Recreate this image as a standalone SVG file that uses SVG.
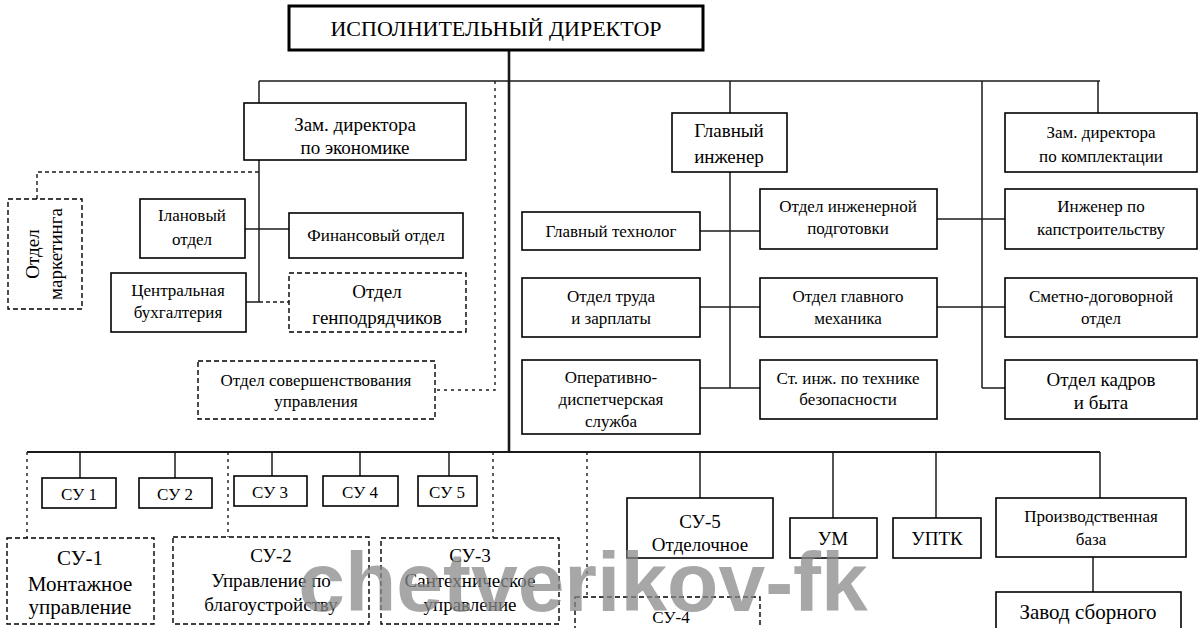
<svg xmlns="http://www.w3.org/2000/svg" width="1200" height="628" viewBox="0 0 1200 628">
<style>
.bx{fill:none;stroke:#000;stroke-width:1.6}
.dbx{fill:none;stroke:#000;stroke-width:1.4;stroke-dasharray:5,3}
.ln{fill:none;stroke:#1a1a1a;stroke-width:1.5}
.dl{fill:none;stroke:#1a1a1a;stroke-width:1.4;stroke-dasharray:4,3}
.dt{fill:none;stroke:#1a1a1a;stroke-width:1.4;stroke-dasharray:3,4}
</style>
<rect width="1200" height="628" fill="#fff"/>

<g id="connectors">
  <line class="ln" x1="509" y1="50" x2="509" y2="452" style="stroke-width:2.6"/>
  <line class="ln" x1="259" y1="81" x2="1100" y2="81"/>
  <line class="ln" x1="259" y1="81" x2="259" y2="103"/>
  <line class="ln" x1="259" y1="160" x2="259" y2="302"/>
  <line class="ln" x1="245" y1="229" x2="289" y2="229"/>
  <line class="ln" x1="246" y1="302" x2="259" y2="302"/>
  <line class="dl" x1="259" y1="302" x2="289" y2="302"/>
  <polyline class="dl" points="259,172 37,172 37,199"/>
  <polyline class="dt" points="495,81 495,390 435,390"/>
  <line class="ln" x1="730" y1="81" x2="730" y2="113"/>
  <line class="ln" x1="730" y1="172" x2="730" y2="388"/>
  <line class="ln" x1="1098" y1="81" x2="1098" y2="113"/>
  <line class="ln" x1="982" y1="81" x2="982" y2="388"/>
  <line class="ln" x1="700" y1="231" x2="760" y2="231"/>
  <line class="ln" x1="700" y1="307" x2="760" y2="307"/>
  <line class="ln" x1="700" y1="388" x2="760" y2="388"/>
  <line class="ln" x1="937" y1="219" x2="1005" y2="219"/>
  <line class="ln" x1="937" y1="307" x2="1005" y2="307"/>
  <line class="ln" x1="982" y1="388" x2="1005" y2="388"/>
  <line class="ln" x1="27" y1="452" x2="1100" y2="452" style="stroke-width:2"/>
  <line class="ln" x1="80" y1="452" x2="80" y2="478"/>
  <line class="ln" x1="175" y1="452" x2="175" y2="478"/>
  <line class="ln" x1="272" y1="452" x2="272" y2="476"/>
  <line class="ln" x1="360" y1="452" x2="360" y2="476"/>
  <line class="ln" x1="449" y1="452" x2="449" y2="476"/>
  <line class="dt" x1="27" y1="452" x2="27" y2="538"/>
  <line class="dt" x1="228" y1="452" x2="228" y2="537"/>
  <line class="dt" x1="493" y1="452" x2="493" y2="538"/>
  <line class="dt" x1="587" y1="452" x2="587" y2="597"/>
  <line class="ln" x1="700" y1="452" x2="700" y2="498"/>
  <line class="ln" x1="833" y1="452" x2="833" y2="518"/>
  <line class="ln" x1="936" y1="452" x2="936" y2="518"/>
  <line class="ln" x1="1100" y1="452" x2="1100" y2="498"/>
  <line class="ln" x1="1093" y1="557" x2="1093" y2="592"/>
</g>

<g id="director"><rect x="289" y="6" width="414" height="44" fill="none" stroke="#000" stroke-width="3"/><text font-family="Liberation Serif" text-anchor="middle" x="496" y="36" font-size="22">ИСПОЛНИТЕЛЬНЫЙ ДИРЕКТОР</text></g>
<g id="zam-econ"><rect class="bx" x="244" y="103" width="222" height="57"/><text font-family="Liberation Serif" text-anchor="middle" font-size="19" x="355" y="131">Зам. директора</text><text font-family="Liberation Serif" text-anchor="middle" font-size="19" x="355" y="154">по экономике</text></g>
<g id="marketing"><rect class="dbx" x="8" y="199" width="74" height="110"/><text font-family="Liberation Serif" text-anchor="middle" font-size="19" transform="translate(39,254) rotate(-90)">Отдел</text><text font-family="Liberation Serif" text-anchor="middle" font-size="19" transform="translate(62,254) rotate(-90)">маркетинга</text></g>
<g id="planovy"><rect class="bx" x="140" y="199" width="105" height="59"/><text font-family="Liberation Serif" text-anchor="middle" font-size="17" x="192" y="221">Ілановый</text><text font-family="Liberation Serif" text-anchor="middle" font-size="17" x="192" y="245">отдел</text></g>
<g id="finansovy"><rect class="bx" x="289" y="213" width="174" height="45"/><text font-family="Liberation Serif" text-anchor="middle" font-size="17" x="376" y="241">Финансовый отдел</text></g>
<g id="buh"><rect class="bx" x="111" y="273" width="135" height="59"/><text font-family="Liberation Serif" text-anchor="middle" font-size="17" x="178" y="296">Центральная</text><text font-family="Liberation Serif" text-anchor="middle" font-size="17" x="178" y="318">бухгалтерия</text></g>
<g id="genpodr"><rect class="dbx" x="289" y="273" width="177" height="59"/><text font-family="Liberation Serif" text-anchor="middle" font-size="19" x="377" y="298">Отдел</text><text font-family="Liberation Serif" text-anchor="middle" font-size="19" x="377" y="324">генподрядчиков</text></g>
<g id="soversh"><rect class="dbx" x="198" y="361" width="237" height="58"/><text font-family="Liberation Serif" text-anchor="middle" font-size="17" x="316" y="386">Отдел совершенствования</text><text font-family="Liberation Serif" text-anchor="middle" font-size="17" x="316" y="407">управления</text></g>
<g id="glav-inzh"><rect class="bx" x="672" y="113" width="115" height="59"/><text font-family="Liberation Serif" text-anchor="middle" font-size="19" x="729" y="137">Главный</text><text font-family="Liberation Serif" text-anchor="middle" font-size="19" x="729" y="163">инженер</text></g>
<g id="zam-kompl"><rect class="bx" x="1005" y="113" width="192" height="59"/><text font-family="Liberation Serif" text-anchor="middle" font-size="17" x="1101" y="138">Зам. директора</text><text font-family="Liberation Serif" text-anchor="middle" font-size="17" x="1101" y="162">по комплектации</text></g>
<g id="tehnolog"><rect class="bx" x="522" y="212" width="178" height="38"/><text font-family="Liberation Serif" text-anchor="middle" font-size="17" x="611" y="237">Главный технолог</text></g>
<g id="inzh-podg"><rect class="bx" x="760" y="189" width="177" height="60"/><text font-family="Liberation Serif" text-anchor="middle" font-size="17" x="848" y="212">Отдел инженерной</text><text font-family="Liberation Serif" text-anchor="middle" font-size="17" x="848" y="234">подготовки</text></g>
<g id="kapstroi"><rect class="bx" x="1005" y="189" width="192" height="60"/><text font-family="Liberation Serif" text-anchor="middle" font-size="17" x="1101" y="212">Инженер по</text><text font-family="Liberation Serif" text-anchor="middle" font-size="17" x="1101" y="235">капстроительству</text></g>
<g id="trud"><rect class="bx" x="522" y="278" width="178" height="59"/><text font-family="Liberation Serif" text-anchor="middle" font-size="17" x="611" y="302">Отдел труда</text><text font-family="Liberation Serif" text-anchor="middle" font-size="17" x="611" y="324">и зарплаты</text></g>
<g id="mehanik"><rect class="bx" x="760" y="278" width="177" height="59"/><text font-family="Liberation Serif" text-anchor="middle" font-size="17" x="848" y="302">Отдел главного</text><text font-family="Liberation Serif" text-anchor="middle" font-size="17" x="848" y="324">механика</text></g>
<g id="smetno"><rect class="bx" x="1005" y="278" width="192" height="59"/><text font-family="Liberation Serif" text-anchor="middle" font-size="17" x="1101" y="302">Сметно-договорной</text><text font-family="Liberation Serif" text-anchor="middle" font-size="17" x="1101" y="324">отдел</text></g>
<g id="operativ"><rect class="bx" x="522" y="360" width="178" height="74"/><text font-family="Liberation Serif" text-anchor="middle" font-size="17" x="611" y="383">Оперативно-</text><text font-family="Liberation Serif" text-anchor="middle" font-size="17" x="611" y="405">диспетчерская</text><text font-family="Liberation Serif" text-anchor="middle" font-size="17" x="611" y="427">служба</text></g>
<g id="tb"><rect class="bx" x="760" y="360" width="177" height="59"/><text font-family="Liberation Serif" text-anchor="middle" font-size="17" x="848" y="384">Ст. инж. по технике</text><text font-family="Liberation Serif" text-anchor="middle" font-size="17" x="848" y="405">безопасности</text></g>
<g id="kadry"><rect class="bx" x="1005" y="360" width="192" height="59"/><text font-family="Liberation Serif" text-anchor="middle" font-size="19" x="1101" y="386">Отдел кадров</text><text font-family="Liberation Serif" text-anchor="middle" font-size="19" x="1101" y="409">и быта</text></g>
<g id="su1s"><rect class="bx" x="42" y="478" width="74" height="30"/><text font-family="Liberation Serif" text-anchor="middle" font-size="17" x="79" y="500">СУ 1</text></g>
<g id="su2s"><rect class="bx" x="139" y="478" width="73" height="30"/><text font-family="Liberation Serif" text-anchor="middle" font-size="17" x="175" y="500">СУ 2</text></g>
<g id="su3s"><rect class="bx" x="234" y="476" width="73" height="30"/><text font-family="Liberation Serif" text-anchor="middle" font-size="17" x="270" y="498">СУ 3</text></g>
<g id="su4s"><rect class="bx" x="323" y="476" width="75" height="30"/><text font-family="Liberation Serif" text-anchor="middle" font-size="17" x="360" y="498">СУ 4</text></g>
<g id="su5s"><rect class="bx" x="418" y="476" width="59" height="30"/><text font-family="Liberation Serif" text-anchor="middle" font-size="17" x="447" y="498">СУ 5</text></g>
<g id="su1"><rect class="dbx" x="7" y="538" width="147" height="86"/><text font-family="Liberation Serif" text-anchor="middle" font-size="21" x="80" y="565">СУ-1</text><text font-family="Liberation Serif" text-anchor="middle" font-size="21" x="80" y="591">Монтажное</text><text font-family="Liberation Serif" text-anchor="middle" font-size="21" x="80" y="614">управление</text></g>
<g id="su2"><rect class="dbx" x="173" y="537" width="196" height="87"/><text font-family="Liberation Serif" text-anchor="middle" font-size="19" x="271" y="562">СУ-2</text><text font-family="Liberation Serif" text-anchor="middle" font-size="19" x="271" y="587">Управление по</text><text font-family="Liberation Serif" text-anchor="middle" font-size="19" x="271" y="611">благоустройству</text></g>
<g id="su3"><rect class="dbx" x="381" y="538" width="178" height="86"/><text font-family="Liberation Serif" text-anchor="middle" font-size="19" x="470" y="562">СУ-3</text><text font-family="Liberation Serif" text-anchor="middle" font-size="19" x="470" y="587">Сантехническое</text><text font-family="Liberation Serif" text-anchor="middle" font-size="19" x="470" y="611">управление</text></g>
<g id="su4"><rect class="dbx" x="575" y="597" width="185" height="40"/><text font-family="Liberation Serif" text-anchor="middle" font-size="17" x="671" y="623">СУ-4</text></g>
<g id="su5"><rect class="bx" x="627" y="498" width="146" height="60"/><text font-family="Liberation Serif" text-anchor="middle" font-size="19" x="700" y="528">СУ-5</text><text font-family="Liberation Serif" text-anchor="middle" font-size="19" x="700" y="551">Отделочное</text></g>
<g id="um"><rect class="bx" x="790" y="518" width="87" height="40"/><text font-family="Liberation Serif" text-anchor="middle" font-size="19" x="833" y="545">УМ</text></g>
<g id="uptk"><rect class="bx" x="893" y="518" width="88" height="40"/><text font-family="Liberation Serif" text-anchor="middle" font-size="19" x="937" y="545">УПТК</text></g>
<g id="prodbaza"><rect class="bx" x="996" y="498" width="190" height="59"/><text font-family="Liberation Serif" text-anchor="middle" font-size="17" x="1091" y="522">Производственная</text><text font-family="Liberation Serif" text-anchor="middle" font-size="17" x="1091" y="545">база</text></g>
<g id="zavod"><rect class="bx" x="996" y="592" width="185" height="45"/><text font-family="Liberation Serif" text-anchor="middle" font-size="21" x="1088" y="619">Завод сборного</text></g>

<text x="583" y="611" font-family="Liberation Sans" font-weight="bold" font-size="84" fill="#8a8a8a" fill-opacity="0.75" text-anchor="middle">chetverikov-fk</text>
</svg>
